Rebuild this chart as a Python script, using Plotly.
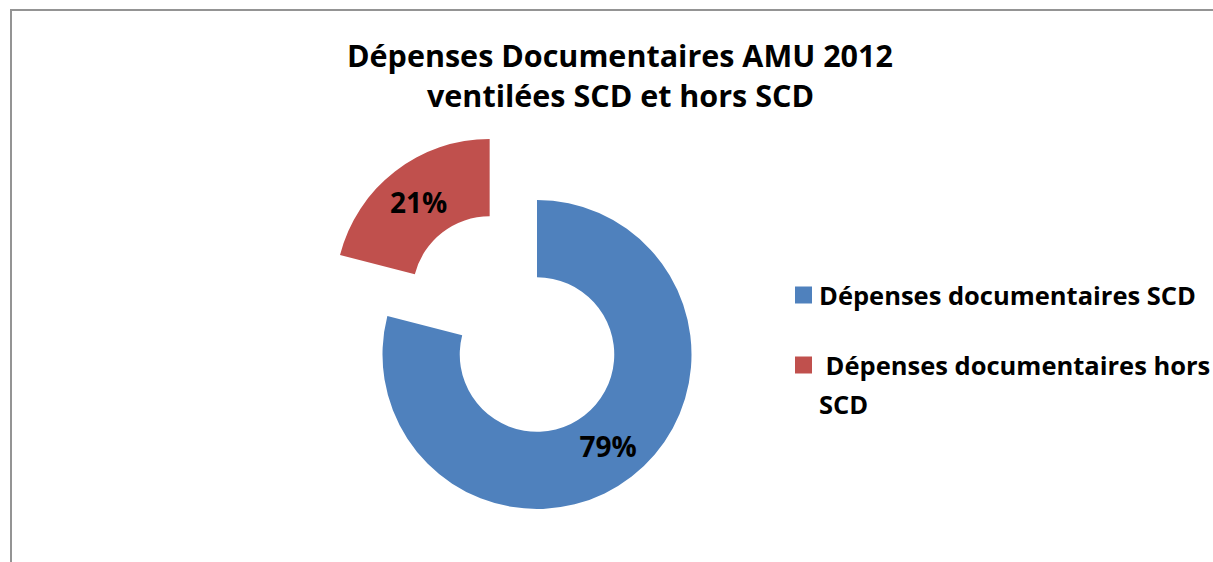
import math
import plotly.graph_objects as go

# ---- data ----
labels = ["Dépenses documentaires SCD", " Dépenses documentaires hors<br>SCD"]
values = [79, 21]
colors = ["#4F81BD", "#C0504D"]
title_lines = ["Dépenses Documentaires AMU 2012", "ventilées SCD et hors SCD"]

W, H = 1213, 562
FONT = "Open Sans"

def px(x):
    return x / W

def py(y):
    return 1 - y / H

# geometry (page pixels)
cx, cy, R = 537.0, 354.5, 154.5
hole = 0.5
pull = 0.5          # pulled-out fraction for 2nd slice
exploded = 1

def dom(cxp, cyp):
    return dict(x=[px(cxp - R), px(cxp + R)], y=[py(cyp + R), py(cyp - R)])

total = sum(values)
start = sum(values[:exploded]) / total
mid = 2 * math.pi * (start + values[exploded] / total / 2)
dx = math.sin(mid) * pull * R
dy = -math.cos(mid) * pull * R

fig = go.Figure()
for k in range(len(values)):
    cols = [c if i == k else "rgba(0,0,0,0)" for i, c in enumerate(colors)]
    tt = ["%{percent:.0%}" if i == k else "" for i in range(len(values))]
    d = dom(cx + dx, cy + dy) if k == exploded else dom(cx, cy)
    fig.add_trace(go.Pie(
        labels=labels, values=values, sort=False, direction="clockwise",
        rotation=0, hole=hole, domain=d,
        marker=dict(colors=cols, line=dict(width=0)),
        texttemplate=tt, textposition="inside",
        insidetextorientation="horizontal",
        textfont=dict(family=FONT, size=28, color="black", weight="bold"),
        showlegend=False, hoverinfo="skip",
    ))

# legend drawn as squares + labels (one annotation per text line)
leg_y = [295, 365]
line_gap = 39
for i, (lab, col) in enumerate(zip(labels, colors)):
    y = leg_y[i]
    fig.add_shape(type="rect", xref="paper", yref="paper",
                  x0=px(795), x1=px(812), y0=py(y + 8.5), y1=py(y - 8.5),
                  fillcolor=col, line=dict(width=0))
    for j, part in enumerate(lab.split("<br>")):
        fig.add_annotation(xref="paper", yref="paper", x=px(817), y=py(y + j * line_gap),
                           xanchor="left", yanchor="middle", align="left", showarrow=False,
                           text=part.replace(" ", "&nbsp;") if part.startswith(" ") else part,
                           font=dict(family=FONT, size=25.5, color="black", weight="bold"))

# title, one annotation per line
for j, t in enumerate(title_lines):
    fig.add_annotation(xref="paper", yref="paper", x=px(620), y=py(55 + j * 40),
                       xanchor="center", yanchor="middle", showarrow=False, text=t,
                       font=dict(family=FONT, size=30.5, color="black", weight="bold"))

# chart border
fig.add_shape(type="rect", xref="paper", yref="paper",
              x0=px(11), x1=1.2, y0=-0.2, y1=py(10),
              line=dict(color="#949494", width=2), fillcolor="rgba(0,0,0,0)")

fig.update_layout(
    width=W, height=H, margin=dict(l=0, r=0, t=0, b=0),
    paper_bgcolor="white", plot_bgcolor="white",
)
fig.write_html("out.html", config={"displayModeBar": False},
               post_script="document.body.style.margin='0';document.body.style.overflow='hidden';")
